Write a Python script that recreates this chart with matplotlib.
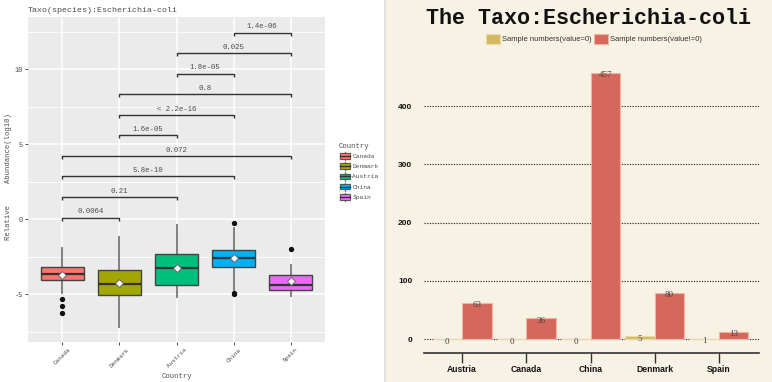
import matplotlib
matplotlib.use('Agg')
import matplotlib.pyplot as plt
from matplotlib.patches import Rectangle, Patch
from matplotlib.legend_handler import HandlerBase
from matplotlib.lines import Line2D
from matplotlib.font_manager import FontProperties
import numpy as np

W, H, DPI = 772, 382, 100

# ---------------- left panel data ----------------
countries = ['Canada', 'Denmark', 'Austria', 'China', 'Spain']
box_colors = ['#F8766D', '#A3A500', '#00BF7D', '#00B0F6', '#E76BF3']
q1 = [-4.07, -5.07, -4.42, -3.20, -4.76]
med = [-3.67, -4.33, -3.27, -2.60, -4.42]
q3 = [-3.20, -3.40, -2.33, -2.04, -3.76]
whislo = [-4.90, -7.18, -5.20, -4.85, -5.13]
whishi = [-1.93, -1.18, -0.40, -0.62, -3.07]
means = [-3.73, -4.25, -3.27, -2.60, -4.11]
fliers = [[-5.35, -5.78, -6.27], [], [], [-0.29, -4.92, -5.00], [-1.98]]

comparisons = [('Canada', 'Denmark', '0.0064'),
               ('Canada', 'Austria', '0.21'),
               ('Canada', 'China', '5.8e-10'),
               ('Canada', 'Spain', '0.072'),
               ('Denmark', 'Austria', '1.6e-05'),
               ('Denmark', 'China', '< 2.2e-16'),
               ('Denmark', 'Spain', '0.8'),
               ('Austria', 'China', '1.8e-05'),
               ('Austria', 'Spain', '0.025'),
               ('China', 'Spain', '1.4e-06')]

left_title = 'Taxo(species):Escherichia-coli'
left_ylabel = 'Relative     Abundance(log10)'
left_xlabel = 'Country'
y_ticks = [-5, 0, 5, 10]

# ---------------- right panel data ----------------
bar_countries = ['Austria', 'Canada', 'China', 'Denmark', 'Spain']
zero_counts = [0, 0, 0, 5, 1]
nonzero_counts = [63, 36, 457, 80, 13]
bar_labels = ['Sample numbers(value=0)', 'Sample numbers(value!=0)']
right_title = 'The Taxo:Escherichia-coli'
bar_yticks = [0, 100, 200, 300, 400]

MONO = 'Liberation Mono'
GREY_TXT = '#4d4d4d'

fig = plt.figure(figsize=(W / DPI, H / DPI), dpi=DPI)
fig.patch.set_facecolor('white')
fig.patches.append(Rectangle((386 / W, 0), 1 - 386 / W, 1, transform=fig.transFigure,
                             fc='#f8f2e4', ec='none', zorder=-10))
fig.patches.append(Rectangle((384 / W, 0), 2 / W, 1, transform=fig.transFigure,
                             fc='#e2e2e2', ec='none', zorder=-9))

# ================= LEFT: boxplot =================
ax = fig.add_axes([28 / W, 1 - 342 / H, 297 / W, 325 / H])
ax.set_facecolor('#EBEBEB')
ax.set_axisbelow(True)
pos = np.arange(1, len(countries) + 1)
stats = []
for i, c in enumerate(countries):
    stats.append(dict(label=c, q1=q1[i], med=med[i], q3=q3[i], whislo=whislo[i],
                      whishi=whishi[i], mean=means[i], fliers=fliers[i]))
bp = ax.bxp(stats, positions=pos, widths=0.75, patch_artist=True, showmeans=True,
            showcaps=False,
            boxprops=dict(edgecolor='#444444', linewidth=1.0),
            whiskerprops=dict(color='#777777', linewidth=1.3),
            medianprops=dict(color='#333333', linewidth=1.6),
            meanprops=dict(marker='D', markerfacecolor='white', markeredgecolor='#666666',
                           markeredgewidth=0.7, markersize=4.5),
            flierprops=dict(marker='o', markerfacecolor='#111111', markeredgecolor='#111111',
                            markersize=2.8))
for patch, col in zip(bp['boxes'], box_colors):
    patch.set_facecolor(col)
    patch.set_zorder(3)
for k in ('medians', 'means'):
    for a in bp[k]:
        a.set_zorder(4)

ax.set_xlim(0.4, 5.6)
ax.set_ylim(-8.2, 13.47)
ax.set_xticks(pos)
ax.set_xticklabels(countries, rotation=45, ha='center', va='top', fontsize=4.3,
                   family=MONO, color=GREY_TXT)
ax.set_yticks(y_ticks)
ax.set_yticklabels([str(t) for t in y_ticks], fontsize=5, family=MONO, color=GREY_TXT)
ax.set_yticks([-7.5, -2.5, 2.5, 7.5, 12.5], minor=True)
ax.tick_params(axis='both', which='major', length=2, width=0.6, color='#333333', pad=1.5)
ax.tick_params(axis='y', which='minor', length=0)
ax.grid(True, which='major', color='white', linewidth=1.1)
ax.grid(True, which='minor', axis='y', color='white', linewidth=0.6)
for s in ax.spines.values():
    s.set_visible(False)

step = 1.37
base = 0.1
for k, (a, b, lab) in enumerate(comparisons):
    x1 = countries.index(a) + 1
    x2 = countries.index(b) + 1
    y = base + k * step
    ax.plot([x1, x1, x2, x2], [y - 0.2, y, y, y - 0.2], color='#333333', lw=1.0,
            solid_capstyle='butt', zorder=5)
    ax.text((x1 + x2) / 2, y + 0.38, lab, ha='center', va='center', fontsize=5.3,
            family=MONO, color=GREY_TXT)

fig.text(28 / W, 1 - 10 / H, left_title, ha='left', va='center', fontsize=6,
         family=MONO, color=GREY_TXT)
fig.text(9 / W, 1 - 177 / H, left_ylabel, rotation=90, ha='center', va='center',
         fontsize=5.2, family=MONO, color=GREY_TXT)
fig.text(177 / W, 1 - 376 / H, left_xlabel, ha='center', va='center', fontsize=5.2,
         family=MONO, color=GREY_TXT)


class BoxKey(HandlerBase):
    def create_artists(self, legend, orig_handle, xdescent, ydescent, width, height,
                       fontsize, trans):
        fc = orig_handle.get_facecolor()
        x0, y0 = -xdescent, -ydescent
        bg = Rectangle((x0, y0), width, height, fc='#EBEBEB', ec='white', lw=0.5,
                       transform=trans)
        wl = Line2D([x0 + width / 2] * 2, [y0 + 0.5, y0 + height - 0.5], color='#777777',
                    lw=0.9, transform=trans)
        box = Rectangle((x0 + width * 0.1, y0 + height * 0.22), width * 0.8, height * 0.56,
                        fc=fc, ec='#444444', lw=0.6, transform=trans)
        ml = Line2D([x0 + width * 0.1, x0 + width * 0.9], [y0 + height / 2] * 2,
                    color='#333333', lw=1.0, transform=trans)
        return [bg, wl, box, ml]


leg1 = fig.legend(handles=[Patch(facecolor=c) for c in box_colors], labels=countries,
                  handler_map={Patch: BoxKey()}, title='Country', loc='upper left',
                  bbox_to_anchor=(334 / W, 1 - 139 / H), frameon=False,
                  prop=FontProperties(family=MONO, size=4.5),
                  title_fontproperties=FontProperties(family=MONO, size=5.2),
                  handlelength=2.0, handleheight=2.0, labelspacing=0.1,
                  handletextpad=0.25, borderpad=0.2, alignment='left')
for t in leg1.get_texts():
    t.set_color(GREY_TXT)
leg1.get_title().set_color(GREY_TXT)

# ================= RIGHT: bar chart =================
YEL, YEL_E = '#d4b965', '#eadba6'
RED, RED_E = '#d6675b', '#f0b4a6'
ax2 = fig.add_axes([424 / W, 1 - 352.7 / H, (759 - 424) / W, (352.7 - 60) / H])
ax2.set_facecolor('none')
x = np.arange(len(bar_countries))
w = 0.46
b1 = ax2.bar(x - w, zero_counts, width=w, align='edge', color=YEL, edgecolor=YEL_E,
             linewidth=0.8, zorder=3, label=bar_labels[0])
b2 = ax2.bar(x, nonzero_counts, width=w, align='edge', color=RED, edgecolor=RED_E,
             linewidth=0.8, zorder=3, label=bar_labels[1])
for bars, vals in ((b1, zero_counts), (b2, nonzero_counts)):
    for r, v in zip(bars, vals):
        ax2.annotate(str(v), (r.get_x() + r.get_width() / 2, v), xytext=(0, -1.6),
                     textcoords='offset points', ha='center', va='center', fontsize=6.5,
                     family='Liberation Serif', color='#444444', zorder=4)

ax2.set_xlim(-0.594, 4.625)
ax2.set_ylim(-23, 479)
ax2.set_yticks(bar_yticks)
ax2.set_yticklabels([str(t) for t in bar_yticks], fontsize=6, fontweight='bold',
                    family='Liberation Sans', color='#111111')
ax2.set_xticks(x)
ax2.set_xticklabels(bar_countries, fontsize=6.2, fontweight='bold',
                    family='Liberation Sans', color='#111111')
ax2.tick_params(axis='y', length=0, pad=8.5)
ax2.tick_params(axis='x', length=7.5, width=1.0, color='#333333', pad=1.5)
ax2.yaxis.grid(True, linestyle=(0, (1.2, 1.2)), color='#333333', linewidth=0.8)
ax2.set_axisbelow(True)
for s in ('top', 'right', 'left'):
    ax2.spines[s].set_visible(False)
ax2.spines['bottom'].set_color('#333333')
ax2.spines['bottom'].set_linewidth(1.2)

fig.text(589 / W, 1 - 23.5 / H, right_title, ha='center', va='baseline', fontsize=15.7,
         fontweight='bold', family=MONO, color='#111111')
leg2 = fig.legend(handles=[Patch(facecolor=YEL, edgecolor=YEL_E, linewidth=0.8),
                           Patch(facecolor=RED, edgecolor=RED_E, linewidth=0.8)],
                  labels=bar_labels, ncol=2, loc='center',
                  bbox_to_anchor=(594 / W, 1 - 39 / H), frameon=False,
                  prop=FontProperties(family='Liberation Sans', size=5.5),
                  handlelength=1.8, handleheight=1.8, columnspacing=0.3,
                  handletextpad=0.3, borderpad=0.1)
for t in leg2.get_texts():
    t.set_color('#333333')

fig.savefig('out.png', dpi=DPI)
